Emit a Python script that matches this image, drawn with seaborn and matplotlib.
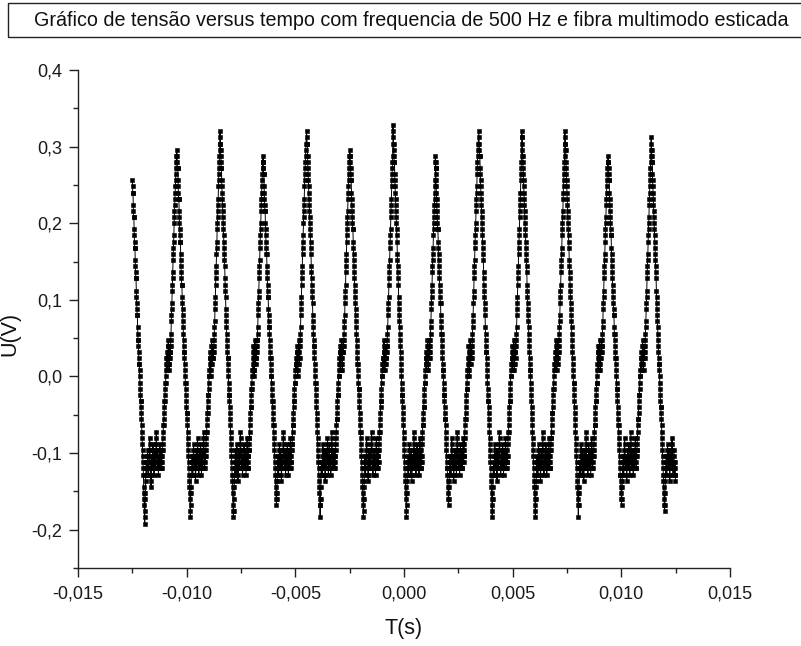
import numpy as np
import pandas as pd
import matplotlib
matplotlib.use("Agg")
import matplotlib.pyplot as plt
from matplotlib.patches import Rectangle
from matplotlib.ticker import MultipleLocator, FuncFormatter
import seaborn as sns

# Oscilloscope record: 10 us sampling, values in ADC counts of 8 mV
ADC_STEP = 0.008
DT = 1e-5

t_start = -0.0125
peak_times = [-0.01045, -0.00847, -0.00649, -0.00448, -0.00249, -0.00051,
              0.00143, 0.00344, 0.00542, 0.00740, 0.00939, 0.01137]

u_lead = [32,31,30,30,28,27,26,26,24,23,22,21,21,19,18,17,16,16,14,13,12,11,10,10,8,7,
          6,6,5,4,3,2,2,1,0,-1,-2,-3,-4,-4,-5,-6,-7,-8,-9,-10,-11,-12,-13,-14,-15,-16,-18,-19,-20,-21,-23,-24,
          -22,-20,-19,-17,-16,-15,-14,-14,-15,-16,-15,-13,-12,-13,-14,-15,-15,-16,-15,-14,
          -12,-11,-10,-12,-14,-15,-15,-17,-18,-16,-15,-14,-13,-15,-15,-14,-12,-11,-13,-14,
          -15,-15,-16,-14,-13,-12,-14,-15,-15,-14,-13,-11,-9,-10,-12,-13,-15,-15,-14,-12,
          -13,-15,-16,-15,-14,-13,-15,-15,-12,-11,-12,-14,-15,-14,-13,-12,-13,-15,-14,-13,-12,-12,
          -11,-10,-9,-8,-8,-7,-6,-5,-4,-4,-3,-2,-1,-1,0,1,
          2,3,4,3,2,1,2,4,5,6,5,3,2,1,2,3,5,4,3,4,5,
          6,7,9,10,11,12,14,15,16,17,19,20,21,22,23,25,26,27,28,29,30,31,32,33,34,35,36]

u_c01 = [37,36,35,34,34,32,31,30,29,29,27,26,25,24,23,22,22,20,19,18,17,16,15,15,13,12,11,10,9,8,7,
         6,5,4,4,3,2,1,0,-1,-1,-2,-3,-4,-5,-6,-6,-7,-8,-9,-10,-11,-12,-13,-14,-15,-16,-17,-18,-19,-20,-22,-23,
         -21,-19,-18,-16,-15,-15,-14,-13,-14,-15,-16,-15,-13,-12,-11,-13,-14,-15,-15,-14,
         -13,-15,-16,-17,-15,-14,-12,-13,-15,-15,-14,-12,-10,-11,-13,-14,-15,-15,-16,-14,
         -13,-12,-14,-15,-15,-13,-11,-12,-14,-15,-16,-15,-13,-12,-13,-15,-15,-14,-12,-10,
         -9,-11,-13,-14,-15,-15,-13,-12,-14,-13,-12,-11,
         -10,-9,-9,-8,-7,-6,-6,-5,-4,-3,-3,-2,-1,0,0,1,
         3,4,3,2,1,0,2,3,5,6,4,3,2,3,4,5,4,3,4,5,6,
         7,8,9,11,12,13,15,16,17,18,20,21,22,24,25,26,27,28,29,31,32,33,34,35,36,37,38]

u_c02 = [40,39,38,37,36,35,34,34,32,31,30,29,28,27,26,25,24,23,22,21,20,19,18,16,15,14,13,11,10,9,8,
         7,6,5,4,3,3,2,1,0,-1,-2,-3,-3,-4,-5,-6,-7,-8,-9,-10,-11,-12,-13,-14,-15,-16,-17,-18,-19,-21,-22,-23,
         -22,-20,-18,-17,-16,-15,-15,-13,-12,-14,-15,-16,-15,-14,-13,-11,-12,-14,-15,-15,
         -17,-16,-14,-13,-12,-13,-15,-15,-14,-12,-11,-9,-10,-12,-14,-15,-15,-13,-12,-14,
         -15,-16,-15,-14,-13,-15,-15,-12,-11,-12,-14,-15,-15,-14,-13,-12,-14,-16,-15,-14,
         -13,-12,-10,-11,-13,-15,-15,-14,-13,-12,-12,-11,
         -10,-10,-9,-8,-7,-6,-5,-5,-4,-3,-2,-2,-1,0,1,1,
         2,4,5,3,2,1,0,1,3,4,6,5,3,2,3,4,5,3,4,5,6,
         6,7,8,10,11,12,13,14,16,17,18,19,21,22,23,24,25,27,28,29,30,31,32,33,34,35,35]

u_c03 = [36,35,34,33,33,31,30,29,28,27,27,25,24,23,22,21,20,20,18,17,16,15,14,13,13,11,10,9,8,8,7,
         6,5,4,3,3,2,1,0,0,-1,-2,-3,-4,-4,-5,-6,-7,-8,-8,-9,-10,-11,-12,-13,-14,-15,-16,-17,-18,-19,-20,-21,
         -20,-19,-17,-16,-15,-14,-13,-13,-15,-16,-15,-14,-12,-11,-12,-14,-15,-15,-13,-12,
         -14,-16,-17,-15,-14,-13,-15,-15,-14,-12,-10,-9,-11,-13,-14,-15,-15,-14,-12,-13,
         -15,-16,-15,-13,-12,-14,-15,-14,-13,-11,-12,-14,-15,-15,-16,-14,-13,-12,-14,-15,
         -15,-13,-11,-10,-12,-14,-15,-14,-13,-12,-11,-11,
         -10,-9,-8,-8,-7,-6,-5,-4,-4,-3,-2,-1,-1,0,1,2,
         3,2,1,2,4,5,4,3,2,0,1,3,4,6,5,4,3,2,3,5,6,
         7,8,10,11,12,13,15,16,17,18,20,21,22,23,25,26,27,28,29,31,32,33,34,35,36,37,38]

u_c04 = [40,39,38,38,36,35,34,33,32,31,30,29,28,27,26,25,24,23,22,21,20,18,17,16,15,14,13,12,10,9,8,
         7,6,5,5,4,3,2,1,0,-1,-1,-2,-3,-4,-5,-6,-7,-8,-9,-10,-11,-12,-13,-14,-15,-16,-17,-18,-19,-20,-21,-23,
         -21,-20,-18,-16,-15,-14,-14,-15,-16,-15,-13,-12,-11,-13,-14,-15,-15,-14,-12,-13,
         -15,-16,-17,-16,-15,-13,-12,-14,-15,-15,-14,-13,-11,-10,-12,-14,-15,-16,-15,-14,
         -12,-11,-13,-15,-15,-14,-13,-15,-16,-15,-14,-12,-10,-9,-11,-13,-15,-15,-14,-13,
         -12,-14,-15,-15,-13,-12,-13,-14,-15,-13,-12,-11,
         -10,-9,-8,-7,-7,-6,-5,-4,-3,-3,-2,-1,0,0,1,2,
         3,4,5,4,2,1,2,3,5,6,5,4,2,1,3,4,5,6,4,5,6,
         7,8,9,10,12,13,14,15,17,18,19,20,22,23,24,25,26,27,29,30,31,32,33,34,35,36,36]

u_c05 = [37,36,35,34,33,32,32,30,29,28,27,26,25,24,24,22,21,20,19,18,17,16,15,14,13,12,11,10,9,8,7,
         6,5,4,3,2,2,1,0,-1,-2,-2,-3,-4,-5,-6,-7,-8,-9,-9,-10,-11,-12,-13,-14,-15,-16,-17,-18,-19,-20,-21,-23,
         -22,-20,-18,-17,-15,-14,-13,-14,-15,-16,-15,-15,-13,-12,-10,-11,-13,-14,-15,-15,
         -16,-17,-16,-14,-13,-12,-14,-15,-15,-13,-12,-13,-15,-15,-14,-12,-11,-9,-10,-12,
         -14,-15,-15,-16,-15,-13,-12,-14,-15,-14,-13,-12,-14,-15,-15,-16,-14,-13,-11,-10,
         -12,-14,-15,-15,-14,-13,-12,-13,-15,-14,-12,-11,
         -10,-9,-9,-8,-7,-6,-5,-4,-4,-3,-2,-1,0,0,1,2,
         3,2,1,3,4,5,6,4,3,2,1,2,4,5,3,2,3,4,5,4,5,
         6,7,8,10,11,12,13,15,16,17,18,19,21,22,23,24,26,27,28,29,31,32,33,34,35,36,38]

u_c06 = [41,40,39,38,37,36,35,35,33,32,31,30,29,28,27,26,25,24,23,22,20,19,18,17,16,15,13,12,11,10,9,
         8,7,6,5,4,3,2,1,0,-1,-2,-3,-3,-4,-5,-6,-7,-8,-9,-10,-11,-12,-13,-14,-15,-16,-17,-18,-19,-20,-22,-23,
         -21,-19,-17,-16,-15,-15,-14,-13,-14,-16,-15,-14,-12,-11,-12,-14,-15,-15,-16,-15,
         -13,-12,-14,-15,-17,-16,-15,-14,-13,-15,-15,-14,-12,-10,-9,-11,-13,-15,-15,-14,
         -13,-12,-14,-16,-15,-15,-14,-12,-11,-13,-15,-15,-14,-13,-12,-14,-15,-16,-15,-13,
         -12,-10,-11,-13,-14,-15,-15,-13,-12,-14,-13,-11,
         -10,-9,-8,-8,-7,-6,-5,-5,-4,-3,-2,-1,-1,0,1,2,
         3,4,3,2,1,2,4,5,6,5,3,2,1,3,4,6,5,4,3,4,5,
         6,7,8,9,11,12,13,14,15,17,18,19,20,21,23,24,25,26,27,28,29,30,31,32,33,34,35]

u_c07 = [36,35,34,34,32,31,30,29,28,27,26,25,24,24,22,21,20,19,18,17,16,15,14,13,12,12,10,9,8,7,7,
         6,5,4,3,2,1,1,0,-1,-2,-3,-3,-4,-5,-6,-7,-7,-8,-9,-10,-11,-12,-13,-14,-15,-15,-16,-17,-18,-19,-20,-21,
         -20,-18,-17,-16,-15,-14,-13,-14,-15,-15,-16,-14,-13,-11,-10,-12,-14,-15,-15,-14,
         -13,-15,-16,-17,-15,-14,-12,-13,-15,-15,-14,-13,-12,-14,-15,-16,-15,-13,-11,-9,
         -10,-12,-14,-15,-15,-14,-13,-12,-14,-15,-16,-15,-14,-12,-11,-13,-15,-15,-14,-13,
         -12,-14,-15,-15,-13,-12,-10,-11,-13,-14,-13,-12,
         -11,-10,-9,-8,-7,-7,-6,-5,-4,-3,-2,-2,-1,0,1,1,
         2,3,5,4,3,1,0,2,3,4,6,5,3,2,3,4,5,4,3,5,6,
         7,8,9,10,12,13,14,16,17,18,19,21,22,23,24,25,27,28,29,30,31,33,34,35,36,37,38]

u_c08 = [40,39,38,37,36,36,34,33,32,31,30,29,28,27,26,25,24,23,22,21,20,19,17,16,15,14,13,12,11,10,8,
         7,6,5,4,4,3,2,1,0,-1,-2,-3,-4,-4,-5,-6,-7,-8,-9,-10,-11,-12,-13,-14,-15,-16,-17,-18,-19,-20,-22,-23,
         -21,-20,-18,-16,-15,-14,-15,-16,-15,-13,-12,-11,-13,-14,-15,-15,-14,-12,-13,-15,
         -16,-17,-15,-14,-13,-12,-14,-15,-15,-14,-13,-11,-9,-10,-12,-14,-15,-15,-16,-15,
         -14,-13,-12,-14,-15,-15,-13,-11,-12,-14,-15,-16,-15,-14,-12,-13,-15,-15,-14,-12,
         -10,-11,-13,-14,-15,-15,-14,-13,-12,-14,-13,-11,
         -10,-9,-9,-8,-7,-6,-5,-4,-4,-3,-2,-1,0,0,1,2,
         3,4,5,3,2,1,2,3,4,6,5,4,2,1,2,4,5,6,4,3,5,
         6,7,8,10,11,12,13,15,16,17,18,20,21,22,23,24,26,27,28,29,30,32,33,34,35,36,38]

u_c09 = [40,39,39,37,36,35,34,33,32,31,30,29,28,27,26,25,24,23,22,21,20,19,18,17,15,14,13,12,11,10,9,
         8,7,6,5,4,3,2,1,1,0,-1,-2,-3,-4,-5,-6,-7,-8,-9,-10,-11,-12,-13,-14,-15,-16,-17,-18,-19,-20,-21,-23,
         -22,-20,-18,-17,-16,-15,-14,-13,-14,-15,-15,-16,-14,-12,-11,-13,-15,-15,-14,-13,
         -12,-14,-15,-17,-16,-15,-13,-12,-14,-15,-15,-14,-12,-10,-9,-11,-13,-15,-15,-16,
         -15,-14,-13,-12,-14,-15,-15,-13,-11,-12,-14,-15,-16,-15,-14,-13,-12,-14,-15,-15,
         -13,-11,-10,-12,-14,-15,-15,-14,-13,-12,-12,-11,
         -10,-10,-9,-8,-7,-6,-6,-5,-4,-3,-2,-2,-1,0,1,2,
         3,2,1,2,4,5,6,4,3,2,1,3,4,5,6,4,3,2,4,5,6,
         7,8,9,10,12,13,14,15,17,18,19,20,21,23,24,25,26,27,29,30,31,32,33,34,35,36,38]

u_c10 = [40,39,38,37,37,35,34,33,32,31,30,29,28,27,26,25,24,23,22,21,19,18,17,16,15,14,13,12,11,10,9,
         8,7,6,5,4,3,2,1,0,-1,-1,-2,-3,-4,-5,-6,-7,-8,-9,-10,-11,-12,-13,-14,-15,-16,-17,-18,-19,-20,-21,-23,
         -21,-19,-18,-16,-15,-14,-14,-15,-16,-15,-13,-12,-11,-13,-14,-15,-15,-16,-15,-14,
         -12,-13,-15,-15,-17,-16,-14,-13,-12,-14,-15,-15,-14,-12,-10,-9,-11,-13,-15,-15,
         -14,-13,-15,-16,-15,-14,-12,-11,-13,-14,-15,-15,-14,-12,-13,-15,-16,-15,-14,-13,
         -11,-10,-12,-13,-15,-15,-14,-13,-12,-13,-12,-11,
         -10,-9,-8,-8,-7,-6,-5,-4,-4,-3,-2,-1,-1,0,1,2,
         3,4,5,4,2,1,2,3,5,6,4,3,2,1,3,4,5,6,5,4,5,
         6,7,8,9,11,12,13,14,16,17,18,19,20,22,23,24,25,26,28,29,30,31,32,33,34,35,35]

u_c11 = [36,35,34,33,32,32,30,29,28,27,26,25,24,23,23,21,20,19,18,17,16,15,14,13,12,11,10,10,8,7,7,
         6,5,4,3,3,2,1,0,-1,-2,-2,-3,-4,-5,-6,-7,-8,-8,-9,-10,-11,-12,-13,-14,-15,-16,-16,-17,-18,-19,-20,-21,
         -20,-18,-17,-16,-15,-14,-13,-14,-15,-16,-15,-13,-12,-10,-11,-13,-14,-15,-15,-14,
         -13,-15,-16,-17,-15,-14,-13,-12,-14,-15,-15,-13,-12,-11,-13,-14,-15,-16,-15,-14,
         -12,-10,-9,-11,-13,-15,-15,-14,-13,-12,-14,-15,-15,-16,-14,-13,-12,-14,-15,-15,
         -13,-12,-10,-11,-13,-14,-15,-15,-13,-12,-12,-11,
         -10,-9,-8,-7,-7,-6,-5,-4,-3,-3,-2,-1,0,0,1,2,
         3,4,3,2,1,2,3,5,6,5,4,2,1,3,4,5,4,3,4,5,6,
         7,8,9,11,12,13,14,16,17,18,19,20,22,23,24,25,26,28,29,30,31,32,33,34,35,36,37]

u_c12 = [39,38,37,36,35,35,33,32,31,30,29,28,27,26,25,24,23,22,21,20,19,18,17,16,14,13,12,11,10,9,8,
         7,6,5,4,3,2,2,1,0,-1,-2,-3,-4,-5,-5,-6,-7,-8,-9,-10,-11,-12,-13,-14,-15,-16,-17,-18,-19,-20,-21,-22,
         -21,-19,-17,-16,-15,-14,-13,-14,-15,-16,-15,-13,-12,-11,-13,-14,-15,-15,-14,-12,
         -13,-15,-16,-17,-15,-14,-13,-12,-14,-15,-15,-14,-12,-10,-11,-13,-15,-15,-16,-15,
         -14,-13,-12,-14,-15,-16,-15,-14,-16,-17]

cycles = [u_c01, u_c02, u_c03, u_c04, u_c05, u_c06,
          u_c07, u_c08, u_c09, u_c10, u_c11, u_c12]

title = "Gráfico de tensão versus tempo com frequencia de 500 Hz e fibra multimodo esticada"
x_label = "T(s)"
y_label = "U(V)"

# assemble the record: each cycle is timed from its own peak
t_parts = [t_start + DT * np.arange(len(u_lead))]
u_parts = [np.asarray(u_lead, dtype=float)]
for tp, seg in zip(peak_times, cycles):
    t_parts.append(tp + DT * np.arange(len(seg)))
    u_parts.append(np.asarray(seg, dtype=float))
df = pd.DataFrame({"T": np.concatenate(t_parts),
                   "U": np.concatenate(u_parts) * ADC_STEP})

sns.set_theme(style="ticks")
plt.rcParams["font.family"] = ["Liberation Sans", "DejaVu Sans"]

W, H = 801, 646
fig = plt.figure(figsize=(W / 100, H / 100), dpi=100)
fig.patch.set_facecolor("white")

x0, x1, ytop, ybot = 78, 730, 70, 568
ax = fig.add_axes([x0 / W, 1 - ybot / H, (x1 - x0) / W, (ybot - ytop) / H])
ax.set_facecolor("white")

sns.lineplot(data=df, x="T", y="U", ax=ax, estimator=None, sort=False,
             color="black", linewidth=0.7, marker="s", markersize=3.4,
             markeredgewidth=0.4, markeredgecolor="black", markerfacecolor="black")

ax.set_xlim(-0.015, 0.015)
ax.set_ylim(-0.25, 0.4)
ax.xaxis.set_major_locator(MultipleLocator(0.005))
ax.xaxis.set_minor_locator(MultipleLocator(0.0025))
ax.yaxis.set_major_locator(MultipleLocator(0.1))
ax.yaxis.set_minor_locator(MultipleLocator(0.05))


def comma_fmt(decimals):
    def f(v, pos):
        s = f"{v:.{decimals}f}"
        if float(s) == 0:
            s = s.lstrip("-")
        return s.replace(".", ",")
    return FuncFormatter(f)


ax.xaxis.set_major_formatter(comma_fmt(3))
ax.yaxis.set_major_formatter(comma_fmt(1))

for side in ("top", "right"):
    ax.spines[side].set_visible(False)
for side in ("left", "bottom"):
    ax.spines[side].set_linewidth(1.0)
    ax.spines[side].set_color("#222222")

ax.tick_params(which="major", direction="out", length=6.5, width=1.0,
               color="#222222", labelsize=13, labelcolor="#1a1a1a", pad=5)
ax.tick_params(which="major", axis="x", pad=6)
ax.tick_params(which="minor", direction="out", length=3.6, width=1.0, color="#222222")

ax.set_xlabel(x_label, fontsize=15.5, color="#111111")
ax.set_ylabel(y_label, fontsize=15.5, color="#111111")
ax.xaxis.set_label_coords(0.5, -0.100)
ax.yaxis.set_label_coords(-0.088, 0.47)
ax.xaxis.label.set_verticalalignment("top")

# title inside a framed strip across the top
fig.patches.append(Rectangle((8 / W, 1 - 37 / H), (W + 10 - 8) / W, 34 / H,
                             transform=fig.transFigure, fill=False,
                             edgecolor="#222222", linewidth=1.0))
fig.text(411 / W, 1 - 21 / H, title, ha="center", va="center",
         fontsize=14.2, color="#111111")

fig.savefig("out.png", dpi=100, facecolor="white")
